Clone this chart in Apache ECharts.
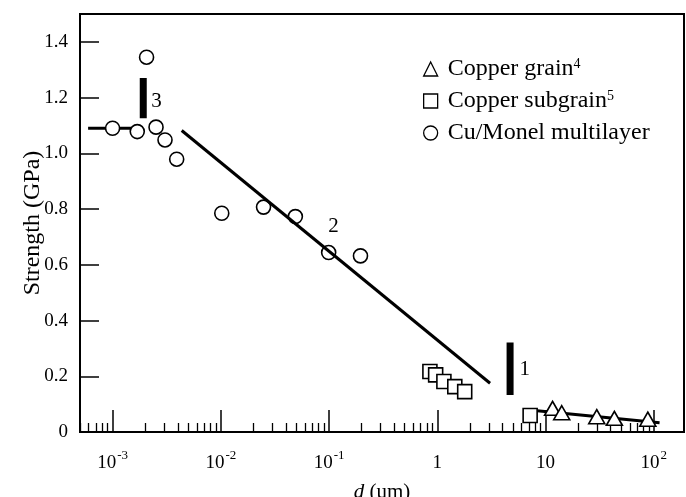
<!DOCTYPE html>
<html>
<head>
<meta charset="utf-8">
<script src="https://cdn.jsdelivr.net/npm/echarts@6/dist/echarts.min.js"></script>
<style>
  html, body { margin: 0; padding: 0; background: #fff; }
  #chart { width: 686px; height: 497px; }
</style>
</head>
<body>
<div id="chart"></div>
<script>
// Strength vs. characteristic length d (log scale)
const SERIF = 'Liberation Serif';

// Cu/Monel multilayer (circles)
const multilayerD = [0.001, 0.00169, 0.00206, 0.00252, 0.00305, 0.00391, 0.0102, 0.0248, 0.0488, 0.0991, 0.195];
const multilayerS = [1.090, 1.078, 1.345, 1.094, 1.048, 0.979, 0.785, 0.807, 0.773, 0.644, 0.632];

// Copper subgrain (squares)
const subgrainD = [0.854, 0.965, 1.15, 1.45, 1.79, 7.2];
const subgrainS = [0.217, 0.205, 0.181, 0.163, 0.145, 0.059];

// Copper grain (triangles)
const grainD = [11.6, 14.1, 29.7, 43.2, 88];
const grainS = [0.085, 0.069, 0.055, 0.049, 0.046];

// Regime lines
const plateauD = [0.000594, 0.00155];
const plateauS = [1.09, 1.09];
const regime2D = [0.00435, 3.07];
const regime2S = [1.082, 0.175];
const regime1D = [7.5, 113];
const regime1S = [0.078, 0.033];

// Regime boundary bars
const bar3D = [0.00192, 0.00192];
const bar3S = [1.126, 1.27];
const bar1D = [4.70, 4.70];
const bar1S = [0.133, 0.321];

// Regime numbers
const regimeLabels = ['3', '2', '1'];
const regimeLabelD = [0.00255, 0.110, 6.43];
const regimeLabelS = [1.186, 0.737, 0.225];

// Axes
const xMin = 5e-4, xMax = 190;
const xMajorTicks = [0.001, 0.01, 0.1, 1, 10, 100];
const xMajorLabels = ['{b|10}{s|-3}', '{b|10}{s|-2}', '{b|10}{s|-1}', '{b|1}', '{b|10}', '{b|10}{s|2}'];
const yTicks = [0, 0.2, 0.4, 0.6, 0.8, 1.0, 1.2, 1.4];
const yTickLabels = ['0', '0.2', '0.4', '0.6', '0.8', '1.0', '1.2', '1.4'];

const legendNames = ['Copper grain', 'Copper subgrain', 'Cu/Monel multilayer'];
const legendRefs = ['4', '5', ''];

// minor ticks at 2..9 of every decade inside the axis range
const xMinorTicks = [];
for (let e = -4; e <= 2; e++) {
  for (let k = 2; k <= 9; k++) {
    const v = k * Math.pow(10, e);
    if (v >= xMin && v <= xMax) xMinorTicks.push(v);
  }
}

const zip = (a, b) => a.map((v, i) => [v, b[i]]);

function majorLabel(v) {
  const lv = Math.log10(v);
  for (let i = 0; i < xMajorTicks.length; i++) {
    if (Math.abs(Math.log10(xMajorTicks[i]) - lv) < 1e-6) return xMajorLabels[i];
  }
  return '';
}

const markerStyle = { color: '#fff', borderColor: '#000', borderWidth: 1.6, opacity: 1 };
const thickLine = { color: '#000', width: 3, cap: 'butt' };
const barLine = { color: '#000', width: 7, cap: 'butt' };

function lineSeries(name, d, s, style, z) {
  return {
    name, type: 'line', data: zip(d, s), xAxisIndex: 0, yAxisIndex: 0,
    symbol: 'none', showSymbol: false, silent: true, z,
    lineStyle: style
  };
}

const chart = echarts.init(document.getElementById('chart'), null, { renderer: 'canvas' });

chart.setOption({
  animation: false,
  backgroundColor: '#fff',
  textStyle: { fontFamily: SERIF, color: '#000' },
  grid: {
    left: 80, right: 2, top: 14, bottom: 65,
    outerBoundsMode: 'none', containLabel: false,
    show: true, borderColor: '#000', borderWidth: 2, backgroundColor: 'transparent'
  },
  legend: {
    orient: 'vertical',
    left: 418, top: 52,
    itemWidth: 14, itemHeight: 14, itemGap: 8,
    data: legendNames,
    formatter: name => {
      const r = legendRefs[legendNames.indexOf(name)];
      return r ? '{t|' + name + '}{s|' + r + '}' : '{t|' + name + '}';
    },
    textStyle: {
      fontFamily: SERIF, fontSize: 24, color: '#000', padding: [0, 0, 0, 5],
      rich: {
        t: { fontFamily: SERIF, fontSize: 24, lineHeight: 23, color: '#000' },
        s: { fontFamily: SERIF, fontSize: 14, lineHeight: 14, verticalAlign: 'top', color: '#000' }
      }
    },
    itemStyle: { borderWidth: 1.3 }
  },
  xAxis: [
    {
      type: 'log', min: xMin, max: xMax, position: 'bottom',
      name: '{i|d} (um)', nameLocation: 'middle', nameGap: 50, nameMoveOverlap: false,
      nameTextStyle: {
        fontFamily: SERIF, fontSize: 21, color: '#000',
        rich: { i: { fontFamily: SERIF, fontSize: 21, fontStyle: 'italic', color: '#000' } }
      },
      axisLine: { show: true, lineStyle: { color: '#000', width: 2 } },
      axisTick: { show: true, inside: true, length: 22, customValues: xMajorTicks, lineStyle: { color: '#000', width: 1.5 } },
      minorTick: { show: false },
      splitLine: { show: false },
      axisLabel: {
        customValues: xMajorTicks,
        formatter: v => majorLabel(v),
        margin: 17,
        rich: {
          b: { fontFamily: SERIF, fontSize: 19, lineHeight: 28, color: '#000' },
          s: { fontFamily: SERIF, fontSize: 13, lineHeight: 13, verticalAlign: 'top', color: '#000', padding: [0, 0, 0, 1] }
        }
      }
    },
    {
      type: 'log', min: xMin, max: xMax, position: 'bottom',
      axisLine: { show: false },
      axisTick: { show: true, inside: true, length: 9, customValues: xMinorTicks, lineStyle: { color: '#000', width: 1.3 } },
      axisLabel: { show: false },
      splitLine: { show: false }
    }
  ],
  yAxis: {
    type: 'value', min: 0, max: 1.5,
    name: 'Strength (GPa)', nameLocation: 'middle', nameGap: 35, nameRotate: 90, nameMoveOverlap: false,
    nameTextStyle: { fontFamily: SERIF, fontSize: 24, color: '#000' },
    axisLine: { show: true, lineStyle: { color: '#000', width: 2 } },
    axisTick: { show: true, inside: true, length: 19, customValues: yTicks, lineStyle: { color: '#000', width: 1.5 } },
    splitLine: { show: false },
    axisLabel: {
      customValues: yTicks,
      formatter: v => yTickLabels[yTicks.findIndex(t => Math.abs(t - v) < 1e-9)],
      fontFamily: SERIF, fontSize: 19, color: '#000', margin: 12
    }
  },
  series: [
    lineSeries('plateau', plateauD, plateauS, thickLine, 2),
    lineSeries('regime1', regime1D, regime1S, thickLine, 2),
    lineSeries('bar3', bar3D, bar3S, barLine, 2),
    lineSeries('bar1', bar1D, bar1S, barLine, 2),
    {
      name: 'Cu/Monel multilayer', type: 'scatter', z: 3,
      data: zip(multilayerD, multilayerS),
      symbol: 'circle', symbolSize: 14, itemStyle: markerStyle
    },
    {
      name: 'Copper subgrain', type: 'scatter', z: 3,
      data: zip(subgrainD, subgrainS),
      symbol: 'rect', symbolSize: 14, itemStyle: markerStyle
    },
    {
      name: 'Copper grain', type: 'scatter', z: 3,
      data: zip(grainD, grainS),
      symbol: 'triangle', symbolSize: [16, 14], itemStyle: markerStyle
    },
    lineSeries('regime2', regime2D, regime2S, thickLine, 4),
    {
      name: 'regimeNumbers', type: 'scatter', z: 5, silent: true,
      data: regimeLabels.map((t, i) => ({ value: [regimeLabelD[i], regimeLabelS[i]], name: t })),
      symbolSize: 0,
      itemStyle: { opacity: 1 },
      label: {
        show: true, position: 'inside', formatter: p => p.name,
        fontFamily: SERIF, fontSize: 21, color: '#000', opacity: 1
      }
    }
  ]
});
</script>
</body>
</html>
